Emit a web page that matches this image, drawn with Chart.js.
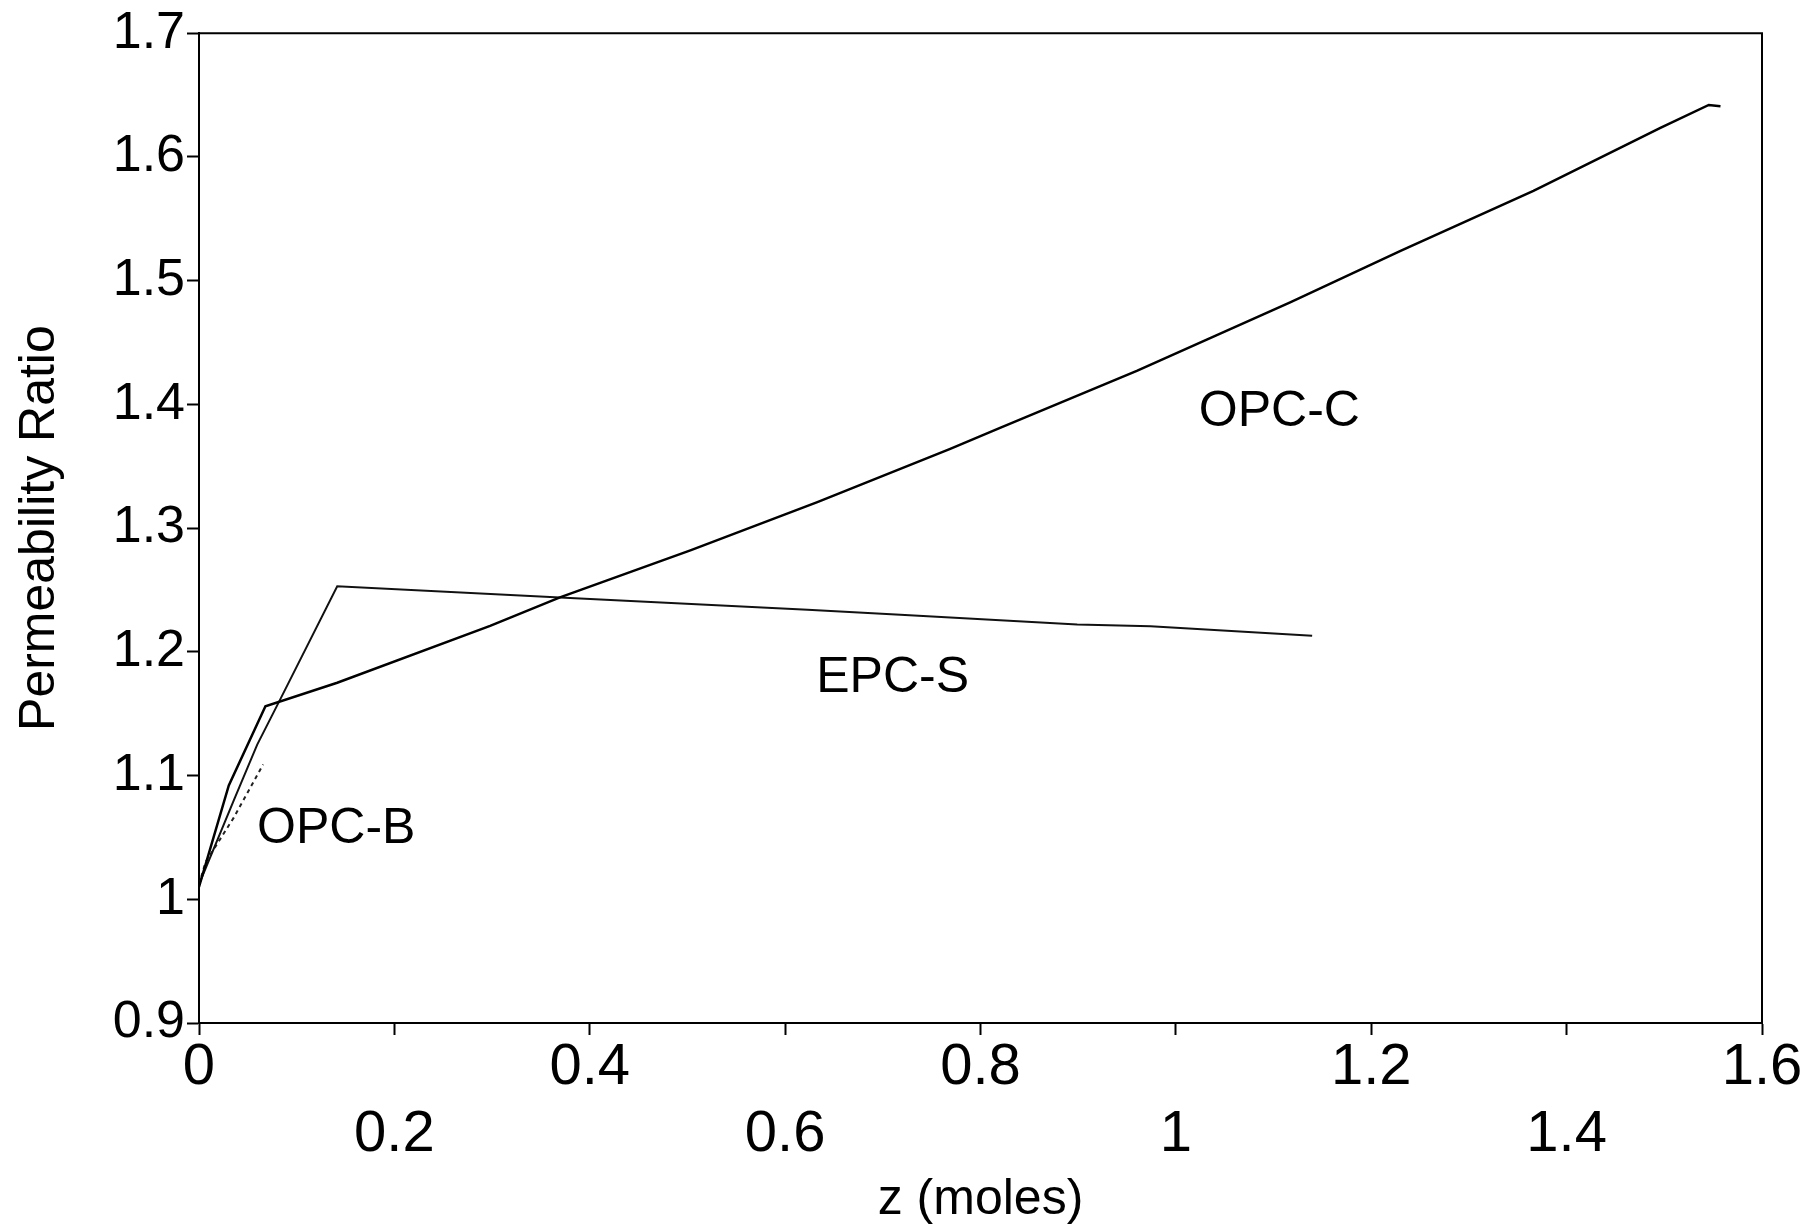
<!DOCTYPE html>
<html>
<head>
<meta charset="utf-8">
<script src="https://cdn.jsdelivr.net/npm/chart.js@4.4.0/dist/chart.umd.min.js"></script>
<style>
  html, body { margin: 0; padding: 0; background: #fff; }
  #wrap { width: 1809px; height: 1226px; }
</style>
</head>
<body>
<div id="wrap"><canvas id="chart"></canvas></div>
<script>
// values
const opcCX = [0, 0.0305, 0.068, 0.1415, 0.298, 0.3695, 0.503, 0.633, 0.769, 0.820, 0.960, 1.117, 1.230, 1.366, 1.496, 1.5455, 1.5575];
const opcCY = [1.010, 1.092, 1.156, 1.175, 1.221, 1.244, 1.282, 1.321, 1.364, 1.381, 1.427, 1.4825, 1.524, 1.5725, 1.6235, 1.642, 1.641];

const epcSX = [0, 0.0356, 0.0596, 0.0834, 0.1415, 0.3695, 0.623, 0.718, 0.899, 0.974, 1.1395];
const epcSY = [1.012, 1.080, 1.125, 1.162, 1.253, 1.244, 1.234, 1.230, 1.222, 1.2207, 1.213];

const opcBX = [0, 0.0067, 0.0356, 0.0657];
const opcBY = [1.012, 1.030, 1.066, 1.109];

const curveNames = ['OPC-C', 'EPC-S', 'OPC-B'];
const nameX = [1.106, 0.710, 0.1405];
const nameY = [1.394, 1.179, 1.057];

const FONT = '"Liberation Sans", Arial, Helvetica, sans-serif';
const NARROW = '"Liberation Sans Narrow", "Arial Narrow", "Liberation Sans", Arial, sans-serif';

const toPoints = (xs, ys) => xs.map((x, i) => ({ x: x, y: ys[i] }));

// frame on top/right plus the curve names
const framePlugin = {
  id: 'frame',
  afterDatasetsDraw(chart) {
    const { ctx, chartArea: a, scales } = chart;
    ctx.save();
    ctx.strokeStyle = '#000';
    ctx.lineWidth = 2;
    ctx.beginPath();
    ctx.moveTo(a.left, a.top);
    ctx.lineTo(a.right, a.top);
    ctx.lineTo(a.right, a.bottom);
    ctx.stroke();

    ctx.fillStyle = '#000';
    ctx.font = '50px ' + FONT;
    ctx.textAlign = 'center';
    ctx.textBaseline = 'middle';
    curveNames.forEach((name, i) => {
      ctx.fillText(name, scales.x.getPixelForValue(nameX[i]), scales.y.getPixelForValue(nameY[i]));
    });
    ctx.restore();
  }
};

new Chart(document.getElementById('chart'), {
  type: 'line',
  data: {
    datasets: [
      { label: 'OPC-C', data: toPoints(opcCX, opcCY), borderColor: '#000', borderWidth: 2.5 },
      { label: 'EPC-S', data: toPoints(epcSX, epcSY), borderColor: '#111', borderWidth: 2 },
      { label: 'OPC-B', data: toPoints(opcBX, opcBY), borderColor: '#222', borderWidth: 2, borderDash: [4, 4] }
    ]
  },
  options: {
    responsive: true,
    maintainAspectRatio: false,
    animation: false,
    elements: { point: { radius: 0 }, line: { tension: 0 } },
    layout: { padding: { top: 30, right: 47, bottom: 0, left: 0 } },
    plugins: { legend: { display: false }, tooltip: { enabled: false } },
    scales: {
      x: {
        type: 'linear',
        min: 0,
        max: 1.6,
        afterFit: (s) => { s.height = 203; },
        border: { display: true, color: '#000', width: 2 },
        grid: { drawOnChartArea: false, drawTicks: true, tickLength: 12, color: '#000', tickWidth: 2 },
        ticks: {
          stepSize: 0.2,
          autoSkip: false,
          maxRotation: 0,
          padding: 0,
          color: '#000',
          font: { family: NARROW, size: 58, lineHeight: 1.155 },
          callback: (v, i) => {
            const t = String(Number(v.toFixed(1)));
            return i % 2 === 0 ? [t] : ['', t];
          }
        },
        title: {
          display: true,
          text: 'z (moles)',
          color: '#000',
          font: { family: FONT, size: 50, lineHeight: 1.0 },
          padding: { top: 0, bottom: 1 }
        }
      },
      y: {
        min: 0.9,
        max: 1.7,
        afterFit: (s) => { s.width = 199; },
        border: { display: true, color: '#000', width: 2 },
        grid: { drawOnChartArea: false, drawTicks: true, tickLength: 12, color: '#000', tickWidth: 2 },
        ticks: {
          stepSize: 0.1,
          padding: 2,
          color: '#000',
          font: { family: FONT, size: 52 },
          callback: (v) => String(Number(v.toFixed(1)))
        },
        title: {
          display: true,
          text: 'Permeability Ratio',
          color: '#000',
          font: { family: FONT, size: 50, lineHeight: 1.0 },
          padding: { top: 15, bottom: 0 }
        }
      }
    }
  },
  plugins: [framePlugin]
});
</script>
</body>
</html>
